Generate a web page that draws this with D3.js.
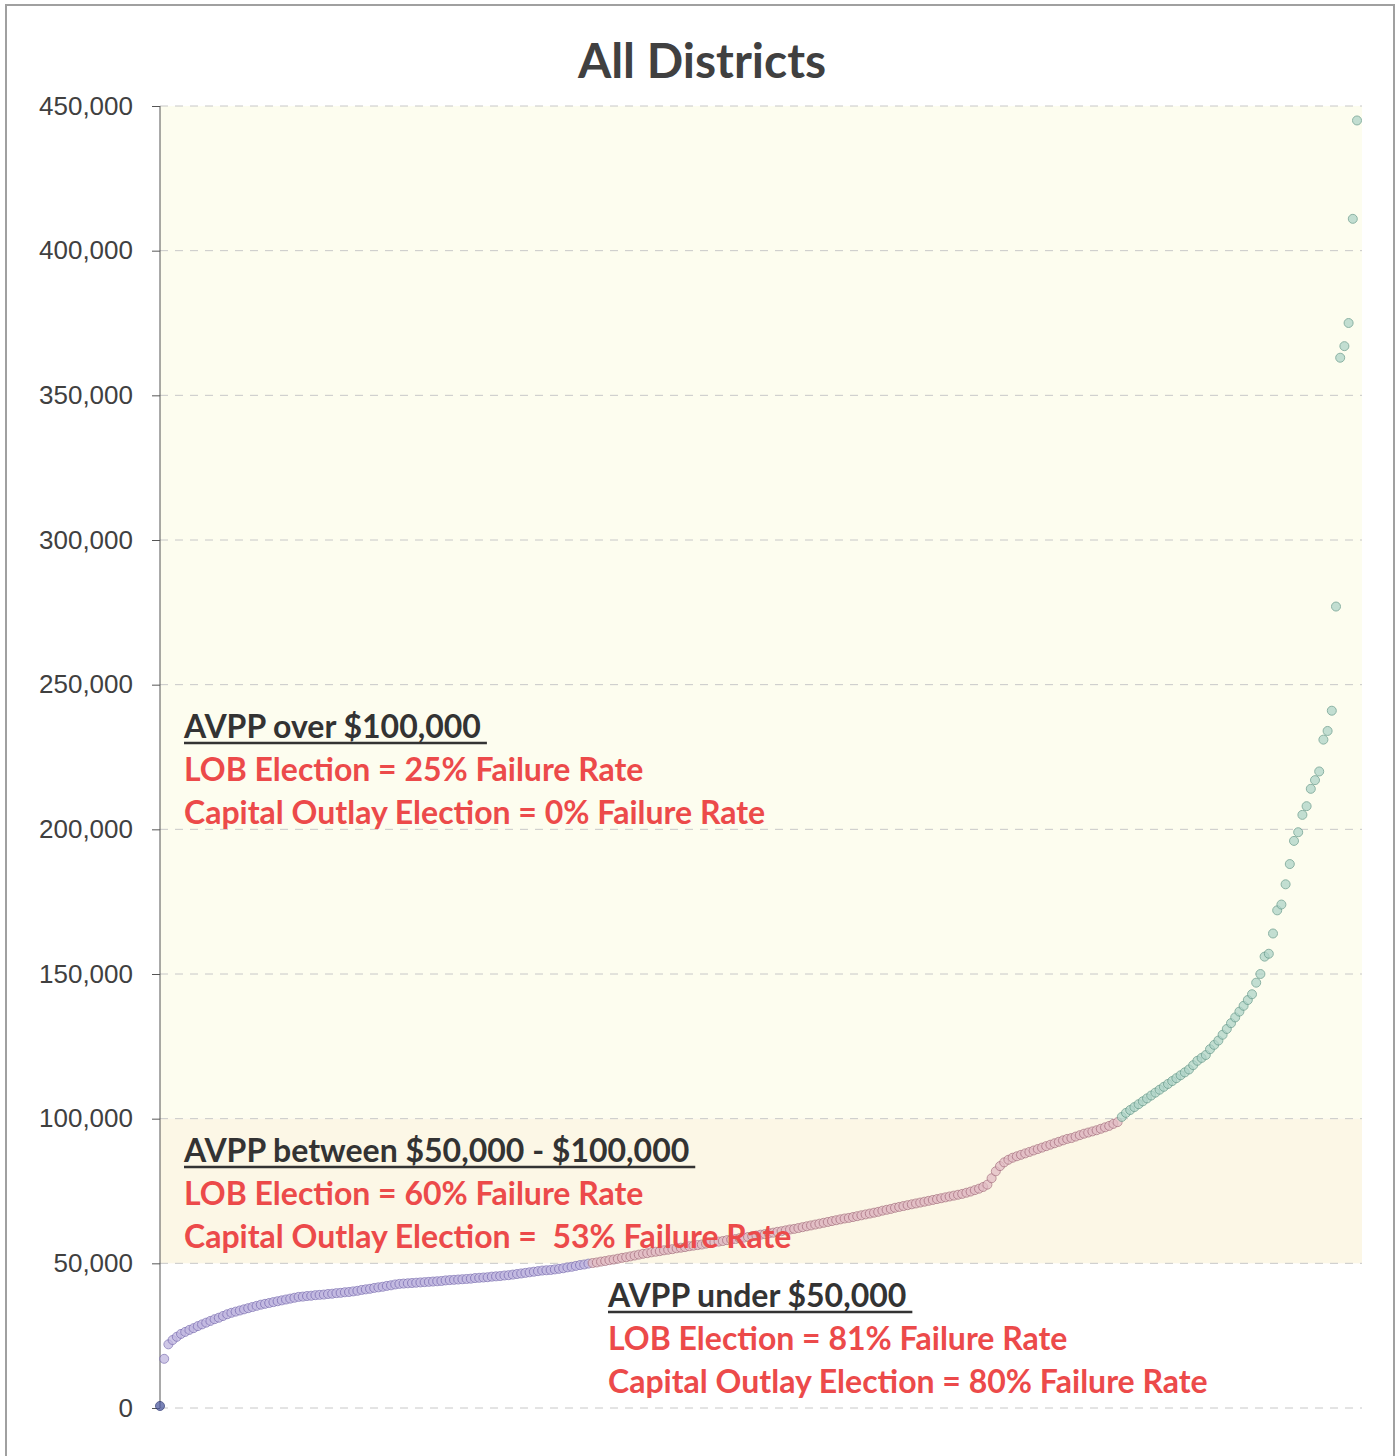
<!DOCTYPE html>
<html lang="en">
<head>
    <meta charset="UTF-8">
    <title>All Districts</title>
    <script src="https://d3js.org/d3.v7.min.js"></script>
    <style>
        body { margin: 0; background: #fff; }
        svg { font-family: Lato, "Open Sans", sans-serif; }
        .axis path { stroke: #555; }
        .axis line { stroke: #555; }
        .axis text { font-size: 26px; fill: #404040; }
        .grid line { stroke: #c8c8c8; stroke-dasharray: 8,7; }
        .head { font-weight: bold; fill: #333; }
        .rate { font-weight: bold; fill: #ec4a4a; }
    </style>
</head>
<body>
<svg width="1400" height="1456"></svg>
<script>
    // assessed valuation per pupil, one point per district (thousands of $), sorted
    const avppK = [
        0.7, 17, 22, 23.5, 24.6, 25.6, 26.3, 27, 27.6, 28.3,
        28.9, 29.5, 30.1, 30.7, 31.2, 31.8, 32.4, 32.9, 33.3, 33.7,
        34.1, 34.5, 34.9, 35.3, 35.7, 36, 36.3, 36.6, 36.9, 37.2,
        37.5, 37.8, 38.1, 38.4, 38.5, 38.7, 38.8, 39, 39.1, 39.2,
        39.4, 39.5, 39.7, 39.8, 40, 40.1, 40.3, 40.5, 40.8, 41,
        41.2, 41.5, 41.7, 41.9, 42.2, 42.4, 42.7, 42.9, 43, 43.1,
        43.2, 43.3, 43.4, 43.5, 43.6, 43.7, 43.8, 43.9, 44.1, 44.2,
        44.3, 44.4, 44.5, 44.6, 44.7, 44.9, 45, 45.1, 45.2, 45.4,
        45.5, 45.6, 45.8, 45.9, 46.1, 46.3, 46.5, 46.7, 46.9, 47.1,
        47.3, 47.5, 47.6, 47.7, 47.9, 48.1, 48.3, 48.6, 48.8, 49.1,
        49.4, 49.6, 49.9, 50.1, 50.3, 50.6, 50.8, 51.1, 51.3, 51.6,
        51.9, 52.1, 52.4, 52.7, 53, 53.3, 53.5, 53.8, 54, 54.2,
        54.5, 54.7, 54.9, 55.2, 55.4, 55.6, 55.9, 56.1, 56.3, 56.5,
        56.8, 57, 57.3, 57.5, 57.7, 58, 58.2, 58.4, 58.7, 58.9,
        59.1, 59.4, 59.6, 59.9, 60.1, 60.4, 60.6, 60.9, 61.1, 61.4,
        61.7, 61.9, 62.2, 62.5, 62.8, 63.1, 63.4, 63.7, 64, 64.3,
        64.6, 64.9, 65.2, 65.5, 65.7, 66, 66.3, 66.6, 66.9, 67.2,
        67.5, 67.8, 68.2, 68.5, 68.8, 69.2, 69.5, 69.8, 70.1, 70.4,
        70.7, 71, 71.3, 71.6, 71.9, 72.2, 72.5, 72.8, 73.1, 73.4,
        73.7, 74, 74.4, 74.8, 75.3, 75.8, 76.4, 77.2, 79.4, 81.8,
        83.6, 84.9, 85.8, 86.5, 87, 87.5, 88, 88.5, 89, 89.5,
        90, 90.5, 91, 91.5, 92, 92.5, 93, 93.3, 93.8, 94.3,
        94.8, 95.2, 95.6, 96, 96.5, 97, 97.5, 98.2, 98.8, 100.6,
        102, 103, 104, 105, 106, 107, 108, 109, 110, 111,
        112, 113, 114, 115, 116, 117, 118.5, 120, 121, 122,
        124, 125.5, 127, 129, 131, 133, 135, 137, 139, 141,
        143, 147, 150, 156, 157, 164, 172, 174, 181, 188,
        196, 199, 205, 208, 214, 217, 220, 231, 234, 241,
        277, 363, 367, 375, 411, 445
    ];

    const yTicks = [0, 50000, 100000, 150000, 200000, 250000, 300000, 350000, 400000, 450000];
    const bandEdges = [50000, 100000, 450000];

    const notes = [
        { head: "AVPP over $100,000", lob: "LOB Election = 25% Failure Rate", cap: "Capital Outlay Election = 0% Failure Rate" },
        { head: "AVPP between $50,000 - $100,000", lob: "LOB Election = 60% Failure Rate", cap: "Capital Outlay Election =  53% Failure Rate" },
        { head: "AVPP under $50,000", lob: "LOB Election = 81% Failure Rate", cap: "Capital Outlay Election = 80% Failure Rate" }
    ];

    const svg = d3.select("svg");

    // outer frame
    svg.append("rect")
        .attr("x", 6).attr("y", 5).attr("width", 1388).attr("height", 1470)
        .attr("fill", "none").attr("stroke", "#a0a0a0").attr("stroke-width", 2);

    const x = d3.scaleLinear().domain([0, avppK.length - 1]).range([160, 1357]);
    const y = d3.scaleLinear().domain([0, 450000]).range([1408, 106]);
    const x0 = 160, x1 = 1362;

    // shaded bands
    svg.append("rect")
        .attr("x", x0).attr("y", y(bandEdges[2]))
        .attr("width", x1 - x0).attr("height", y(bandEdges[1]) - y(bandEdges[2]))
        .attr("fill", "#fdfdef");
    svg.append("rect")
        .attr("x", x0).attr("y", y(bandEdges[1]))
        .attr("width", x1 - x0).attr("height", y(bandEdges[0]) - y(bandEdges[1]))
        .attr("fill", "#fcf7e6");

    // dashed gridlines
    svg.append("g").attr("class", "grid")
        .selectAll("line").data(yTicks).enter().append("line")
        .attr("x1", x0).attr("x2", x1)
        .attr("y1", d => y(d)).attr("y2", d => y(d));

    // title
    svg.append("text")
        .attr("x", 702).attr("y", 78)
        .attr("text-anchor", "middle")
        .style("font-size", "48px").style("font-weight", "bold")
        .attr("fill", "#404040")
        .text("All Districts");

    // y axis
    svg.append("g")
        .attr("class", "axis")
        .attr("transform", "translate(" + x0 + ",0)")
        .call(d3.axisLeft(y).tickValues(yTicks).tickFormat(d3.format(",")).tickSize(8).tickPadding(19))
        .call(g => g.select(".domain").attr("d", "M0," + y(0) + "V" + y(450000)));

    // points
    function ptColor(v) {
        if (v < 1000) return ["#4d5aa0", "#26306e"];
        if (v < 50000) return ["#c0b6e0", "#7c6fb2"];
        if (v < 100000) return ["#e2bcc4", "#a87282"];
        return ["#afd4c8", "#669a8b"];
    }
    svg.append("g")
        .selectAll("circle")
        .data(avppK.map(d => d * 1000))
        .enter().append("circle")
        .attr("cx", (d, i) => x(i))
        .attr("cy", d => y(d))
        .attr("r", 4.5)
        .attr("fill", d => ptColor(d)[0])
        .attr("stroke", d => ptColor(d)[1])
        .attr("stroke-width", 1)
        .attr("opacity", 0.75);

    // annotation blocks
    const notePos = [[184, 738], [184, 1162], [608, 1307]];
    notes.forEach((n, k) => {
        const g = svg.append("g").attr("transform", "translate(" + notePos[k][0] + "," + notePos[k][1] + ")");
        const h = g.append("text").attr("class", "head").style("font-size", "32px").text(n.head);
        g.append("text").attr("class", "rate").attr("y", 43).style("font-size", "32px").text(n.lob);
        g.append("text").attr("class", "rate").attr("y", 86).style("font-size", "32px")
            .attr("xml:space", "preserve").style("white-space", "pre").text(n.cap);
        const w = h.node().getComputedTextLength();
        g.append("line")
            .attr("x1", 0).attr("x2", w + 6)
            .attr("y1", 5).attr("y2", 5)
            .attr("stroke", "#333").attr("stroke-width", 2.5);
    });
</script>
</body>
</html>
